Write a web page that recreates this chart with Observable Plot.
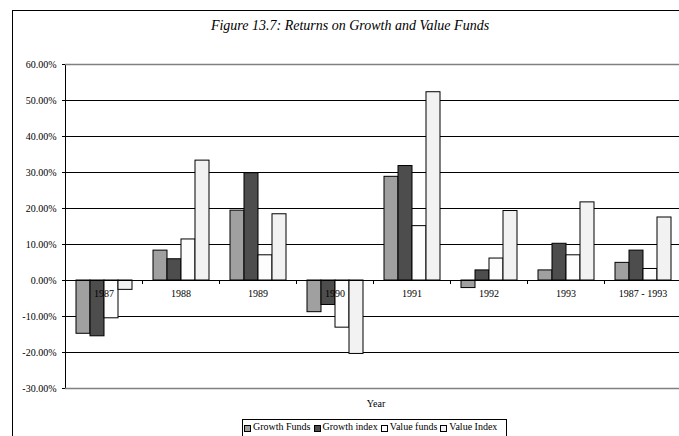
<!DOCTYPE html>
<html><head><meta charset="utf-8">
<script src="https://cdn.jsdelivr.net/npm/d3@7"></script>
<script src="https://cdn.jsdelivr.net/npm/@observablehq/plot@0.6"></script>
<style>
body{margin:0;overflow:hidden;background:#fff;font-family:"Liberation Serif","Times New Roman","DejaVu Serif",serif;color:#000;}
#wrap{position:relative;width:679px;height:436px;overflow:hidden;background:#fff;}
#wrap svg{position:absolute;left:0;top:0;font-family:"Liberation Serif","Times New Roman","DejaVu Serif",serif;}
#wrap svg text{font-family:"Liberation Serif","Times New Roman","DejaVu Serif",serif;}
#frame{position:absolute;left:12px;top:10px;width:700px;height:500px;border:1px solid #000;box-sizing:border-box;pointer-events:none;}
#title{position:absolute;left:0;width:700px;top:18px;text-align:center;font-style:italic;font-size:14px;white-space:nowrap;}
#xlabel{position:absolute;left:356px;width:40px;top:398px;text-align:center;font-size:10px;}
#legend{position:absolute;left:242px;top:419px;width:265px;height:24px;border:1px solid #000;box-sizing:border-box;display:flex;align-items:flex-start;padding:1px 0 0 1px;gap:3px;font-size:10px;white-space:nowrap;background:#fff;}
#legend .it{display:flex;align-items:center;gap:2px;}
#legend .sw{width:5px;height:5px;border:1px solid #000;display:inline-block;margin-top:3px;}
</style></head>
<body><div id="wrap"><div id="title"></div><div id="xlabel"></div><div id="legend"></div><div id="frame"></div></div>
<script>
const titleText = "Figure 13.7: Returns on Growth and Value Funds";
const xLabel = "Year";
const years = ["1987","1988","1989","1990","1991","1992","1993","1987 - 1993"];
const seriesNames = ["Growth Funds","Growth index","Value funds","Value Index"];
const growthFunds = [-14.8, 8.3, 19.4, -8.8, 28.8, -2.1, 2.8, 4.9];
const growthIndex = [-15.5, 5.9, 29.8, -6.8, 31.8, 2.8, 10.2, 8.3];
const valueFunds  = [-10.5, 11.4, 7.0, -13.1, 15.1, 6.1, 7.0, 3.2];
const valueIndex  = [-2.6, 33.3, 18.4, -20.4, 52.3, 19.3, 21.7, 17.5];
const seriesColors = ["#a0a0a0","#4d4d4d","#fdfdfd","#f2f2f2"];
const yTicks = [-30,-20,-10,0,10,20,30,40,50,60];

const seriesValues = [growthFunds, growthIndex, valueFunds, valueIndex];
const rows = years.flatMap((y, i) => seriesNames.map((s, j) => ({year: y, series: s, value: seriesValues[j][i]})));

const serif = "'Liberation Serif', 'Times New Roman', 'DejaVu Serif', serif";
const chart = Plot.plot({
  width: 679, height: 436,
  marginTop: 64, marginBottom: 48, marginLeft: 63, marginRight: 0,
  style: {fontFamily: serif, fontSize: "10px", background: "transparent", color: "#000"},
  fx: {domain: years, range: [63, 683], padding: 0, axis: null},
  x: {domain: seriesNames, paddingInner: 0, paddingOuter: 0.7, axis: null},
  y: {domain: [-30, 60], ticks: yTicks, tickFormat: d => d.toFixed(2) + "%", tickSize: 3, tickPadding: 6, label: null, line: true},
  color: {domain: seriesNames, range: seriesColors},
  marks: [
    Plot.ruleY(yTicks.filter(d => d !== 60 && d !== -30), {stroke: "#000", strokeWidth: 1}),
    Plot.ruleY([60, -30], {stroke: "#808080", strokeWidth: 1.5}),
    Plot.barY(rows, {fx: "year", x: "series", y: "value", fill: "series", stroke: "#000", strokeWidth: 1}),
    Plot.ruleY([0], {stroke: "#000", strokeWidth: 1}),
    Plot.text(years, {fx: d => d, y: 0, text: d => d, dy: 13, fontSize: 10, lineAnchor: "middle", fontFamily: serif})
  ]
});
document.getElementById("wrap").insertBefore(chart, document.getElementById("title"));

// category boundary ticks on the zero line
try {
  const fx = chart.scale("fx");
  const ys = chart.scale("y");
  const y0 = ys.apply(0);
  const step = fx.step || fx.bandwidth;
  const xs = years.map(y => fx.apply(y));
  xs.push(xs[xs.length - 1] + step);
  d3.select(chart).append("g").attr("stroke", "#000")
    .selectAll("line").data(xs).join("line")
    .attr("x1", d => d + 0.5).attr("x2", d => d + 0.5)
    .attr("y1", y0).attr("y2", y0 + 4);
} catch (e) { console.error(e); }

document.getElementById("title").textContent = titleText;
document.getElementById("xlabel").textContent = xLabel;
const leg = document.getElementById("legend");
seriesNames.forEach((s, i) => {
  const it = document.createElement("span"); it.className = "it";
  const sw = document.createElement("span"); sw.className = "sw"; sw.style.background = seriesColors[i];
  const t = document.createElement("span"); t.textContent = s;
  it.appendChild(sw); it.appendChild(t); leg.appendChild(it);
});
</script></body></html>
